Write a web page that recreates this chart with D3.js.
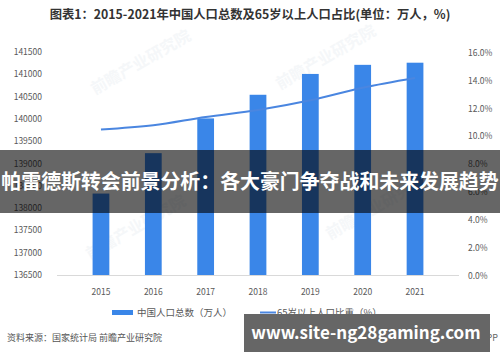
<!DOCTYPE html>
<html><head><meta charset="utf-8">
<script src="https://cdn.jsdelivr.net/npm/d3@7"></script>
<style>body{margin:0;background:#fff}svg{display:block}text{font-family:"Noto Sans CJK SC","Noto Sans",sans-serif}</style>
</head><body><svg id="c" width="500" height="362"></svg>
<script>
const years = ["2015","2016","2017","2018","2019","2020","2021"];
const population = [138326,139232,140011,140541,141008,141212,141260];
const ratio65 = [10.5,10.8,11.4,11.9,12.6,13.5,14.2];
const leftTicks = [136500,137000,137500,138000,138500,139000,139500,140000,140500,141000,141500];
const rightTicks = [0,2,4,6,8,10,12,14,16];
const title = "图表1：2015-2021年中国人口总数及65岁以上人口占比(单位：万人，%)";
const legendLabels = ["中国人口总数（万人）","65岁以上人口比重（%）"];
const source = "资料来源：国家统计局 前瞻产业研究院";
const banner = "帕雷德斯转会前景分析：各大豪门争夺战和未来发展趋势";
const site = "www.site-ng28gaming.com";

const svg = d3.select("#c");
const x = d3.scaleBand().domain(years).range([57,459]).padding(0.68);
const yL = d3.scaleLinear().domain([136500,141500]).range([275,52]);
const yR = d3.scaleLinear().domain([0,16]).range([275.5,53]);
const blue = "#3a86e8";

svg.append("text").attr("x",250).attr("y",19).attr("text-anchor","middle")
  .attr("font-size",12.3).attr("font-weight","bold").attr("fill","#333").text(title);

// faint watermarks
[[95,95],[280,90],[330,240],[90,260]].forEach(([wx,wy])=>{
  svg.append("text").attr("x",wx).attr("y",wy).attr("transform",`rotate(-30,${wx},${wy})`)
   .attr("font-size",16).attr("font-weight","bold").attr("fill","#f5f7f9").text("前瞻产业研究院");
});

// bars
svg.selectAll("rect.bar").data(years).enter().append("rect").attr("class","bar")
  .attr("x",d=>x(d)).attr("width",x.bandwidth())
  .attr("y",(d,i)=>yL(population[i])).attr("height",(d,i)=>yL(136500)-yL(population[i]))
  .attr("fill",blue);

// axis line
svg.append("line").attr("x1",57).attr("x2",459).attr("y1",275.5).attr("y2",275.5).attr("stroke","#d9d9d9");

// axis labels
svg.selectAll("text.yl").data(leftTicks).enter().append("text").attr("class","yl")
  .attr("x",42).attr("y",d=>yL(d)+3).attr("text-anchor","end")
  .attr("font-size",8.5).attr("fill","#595959").text(d=>d);
svg.selectAll("text.yr").data(rightTicks).enter().append("text").attr("class","yr")
  .attr("x",468).attr("y",d=>yR(d)+3)
  .attr("font-size",8.5).attr("fill","#595959").text(d=>d.toFixed(1)+"%");
svg.selectAll("text.xl").data(years).enter().append("text").attr("class","xl")
  .attr("x",d=>x(d)+x.bandwidth()/2).attr("y",295).attr("text-anchor","middle")
  .attr("font-size",8.5).attr("fill","#595959").text(d=>d);

// line
const line = d3.line().x((d,i)=>x(years[i])+x.bandwidth()/2).y(d=>yR(d)).curve(d3.curveMonotoneX);
svg.append("path").datum(ratio65).attr("d",line).attr("fill","none").attr("stroke","#4a86e0").attr("stroke-width",2);

// legend
svg.append("rect").attr("x",112).attr("y",310).attr("width",21).attr("height",5).attr("fill",blue);
svg.append("text").attr("x",137).attr("y",316).attr("font-size",9.5).attr("fill","#595959").text(legendLabels[0]);
svg.append("line").attr("x1",260).attr("x2",276).attr("y1",312.5).attr("y2",312.5).attr("stroke","#4a86e0").attr("stroke-width",2);
svg.append("text").attr("x",277).attr("y",316).attr("font-size",9.5).attr("fill","#595959").text(legendLabels[1]);

// source
svg.append("text").attr("x",7).attr("y",341).attr("font-size",9).attr("fill","#555").text(source);
svg.append("text").attr("x",427).attr("y",341).attr("font-size",9).attr("fill","#666").text("前瞻经济学人APP");

// overlays
svg.append("rect").attr("x",0).attr("y",150).attr("width",500).attr("height",63).attr("fill","rgba(0,0,0,0.6)");
svg.append("text").attr("x",250).attr("y",189).attr("text-anchor","middle").attr("font-size",19.9)
  .attr("font-weight","bold").attr("fill","#fff").text(banner);
svg.append("rect").attr("x",244).attr("y",314).attr("width",246).attr("height",38).attr("fill","#666");
svg.append("text").attr("x",366).attr("y",339).attr("text-anchor","middle").attr("font-size",17)
  .attr("font-weight","bold").attr("font-family","'DejaVu Sans',sans-serif").attr("fill","#fff").text(site);
</script></body></html>
